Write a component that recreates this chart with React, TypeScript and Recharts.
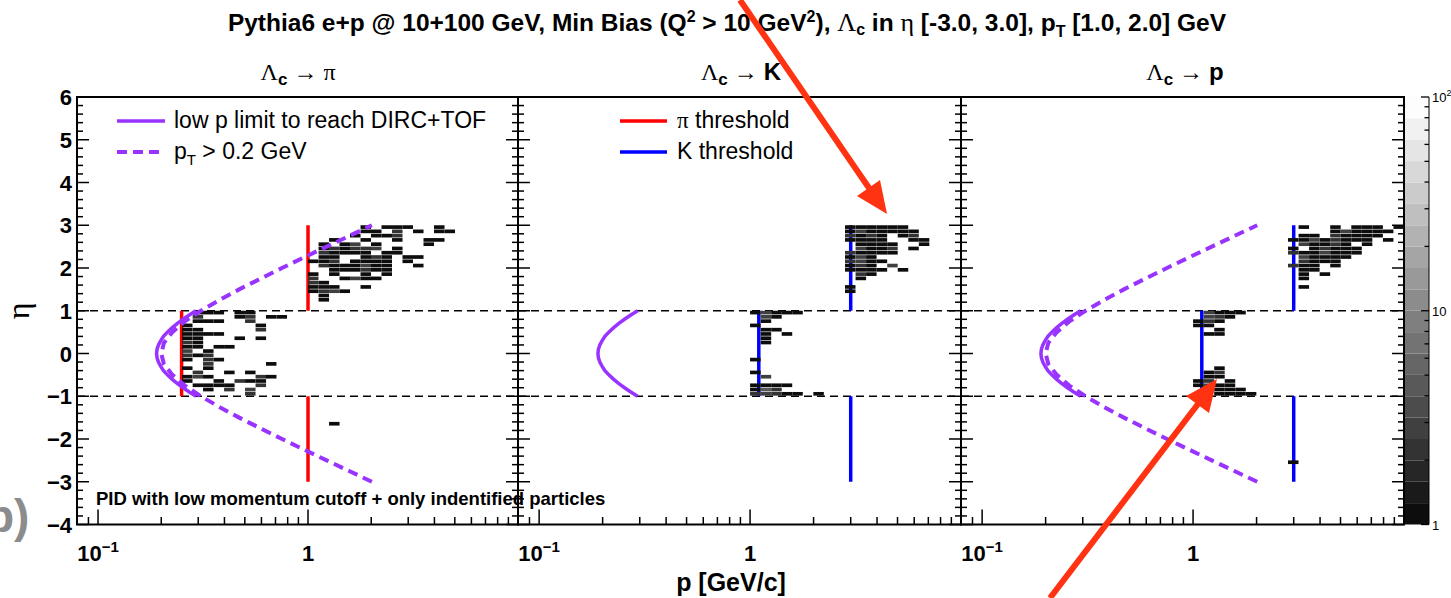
import React from 'react'
import { ScatterChart, Scatter, XAxis, YAxis, ReferenceLine, ReferenceArea, ComposedChart } from 'recharts'

const SANS = '"Liberation Sans", Arial, Helvetica, sans-serif'
const SERIF = '"Liberation Serif", "DejaVu Serif", serif'
const PURPLE = '#9933ff'
const RED = '#ff0000'
const BLUE = '#0000ff'
const ARROW = '#ff3311'

// axes
const P_DOMAIN: [number, number] = [0.0794, 10]
const ETA_DOMAIN: [number, number] = [-4, 6]
const P_TICKS = [0.09, 0.1, 0.2, 0.3, 0.4, 0.5, 0.6, 0.7, 0.8, 0.9, 1, 2, 3, 4, 5, 6, 7, 8, 9]
const P_LABELS = [0.1, 1]
const ETA_TICKS = Array.from({ length: 51 }, (_, i) => Math.round((-4 + i * 0.2) * 10) / 10)

// colour scale (log z, 1 .. 100)
const Z_LEVELS = [1, 1.259, 1.585, 1.995, 2.512, 3.162, 3.981, 5.012, 6.31, 7.943, 10, 12.59, 15.85, 19.95, 25.12, 31.62, 39.81, 50.12, 63.1, 79.43, 100]
const Z_GREYS = ['#0d0d0d', '#1a1a1a', '#262626', '#333333', '#404040', '#4c4c4c', '#595959', '#666666', '#737373', '#7f7f7f',
  '#8c8c8c', '#999999', '#a5a5a5', '#b2b2b2', '#bfbfbf', '#cbcbcb', '#d8d8d8', '#e5e5e5', '#f1f1f1', '#fdfdfd']
const Z_TICKS = [1, 2, 3, 4, 5, 6, 7, 8, 9, 10, 20, 30, 40, 50, 60, 70, 80, 90, 100]

// rows: [eta bin centre, p bin centres, counts]
type Row = [number, number[], number[]]

const PI_ROWS: Row[] = [
  [2.95, [1.884, 2.371, 2.661, 2.985, 4.217], [1, 1, 1, 1, 1]],
  [2.85, [1.884, 2.113, 2.661, 3.35, 4.217, 4.732], [1, 1, 2, 1, 1, 1]],
  [2.75, [1.679, 2.113, 2.371, 2.661], [1, 1, 1, 2]],
  [2.65, [1.334, 1.884, 2.661, 3.758, 4.217], [1, 1, 1, 1, 1]],
  [2.55, [1.189, 1.496, 1.679, 2.113, 3.758], [1, 1, 3, 1, 1]],
  [2.45, [1.189, 1.334, 1.496, 1.679, 1.884, 2.113, 2.661], [1, 2, 1, 2, 2, 3, 1]],
  [2.35, [1.189, 1.334, 1.496, 1.679, 1.884, 2.371, 2.661], [2, 1, 1, 1, 1, 1, 1]],
  [2.25, [1.189, 1.334, 1.884, 2.113, 2.371, 2.985, 3.35], [1, 1, 1, 2, 1, 1, 1]],
  [2.15, [1.059, 1.189, 1.334, 1.679, 1.884, 2.113, 2.371, 2.985], [1, 1, 2, 1, 1, 1, 1, 1]],
  [2.05, [1.189, 1.334, 1.496, 1.679, 1.884, 2.113, 2.371, 3.35], [2, 1, 1, 1, 3, 1, 1, 1]],
  [1.95, [1.334, 1.496, 1.679, 1.884, 2.113, 2.371], [1, 1, 1, 2, 1, 1]],
  [1.85, [1.059, 1.334, 1.884, 2.371], [1, 1, 1, 1]],
  [1.75, [1.059, 1.496, 1.679, 1.884, 2.113], [2, 1, 3, 1, 1]],
  [1.65, [1.059, 1.189], [2, 1]],
  [1.55, [1.059, 1.189, 1.334, 1.884], [1, 1, 1, 1]],
  [1.45, [1.059, 1.189, 1.334, 1.496], [1, 2, 3, 1]],
  [1.35, [1.189], [1]],
  [1.25, [1.189], [1]],
  [0.95, [0.299, 0.335, 0.376, 0.473, 0.531], [1, 1, 1, 1, 1]],
  [0.85, [0.299, 0.473, 0.531, 0.668, 0.75], [2, 1, 2, 1, 1]],
  [0.75, [0.299, 0.335, 0.376, 0.531], [1, 1, 1, 2]],
  [0.65, [0.266, 0.596], [1, 1]],
  [0.55, [0.266, 0.299, 0.596], [1, 1, 2]],
  [0.45, [0.266, 0.299, 0.335, 0.376], [1, 1, 1, 1]],
  [0.35, [0.266, 0.299, 0.473, 0.596], [1, 1, 1, 1]],
  [0.25, [0.266, 0.299], [2, 1]],
  [0.15, [0.266, 0.299, 0.376, 0.422], [1, 1, 1, 1]],
  [0.05, [0.266, 0.335], [3, 1]],
  [-0.05, [0.266, 0.299, 0.335], [2, 1, 2]],
  [-0.15, [0.266, 0.335, 0.376], [1, 2, 1]],
  [-0.25, [0.335, 0.668], [2, 1]],
  [-0.35, [0.266, 0.335], [1, 1]],
  [-0.45, [0.299, 0.422, 0.531], [2, 1, 1]],
  [-0.55, [0.266, 0.299, 0.335, 0.596, 0.668], [1, 3, 1, 2, 1]],
  [-0.65, [0.266, 0.376, 0.473, 0.531, 0.596], [1, 1, 2, 1, 1]],
  [-0.75, [0.299, 0.335, 0.376, 0.422, 0.596], [1, 1, 1, 1, 2]],
  [-0.85, [0.335, 0.422, 0.531], [1, 2, 3]],
  [-0.95, [0.531], [2]],
  [-1.65, [1.334], [1]],
]

const K_ROWS: Row[] = [
  [2.95, [2.985, 3.35, 3.758, 4.217, 4.732, 5.309], [1, 1, 1, 1, 1, 1]],
  [2.85, [2.985, 3.35, 3.758, 4.217, 4.732, 5.309, 5.957], [1, 3, 1, 1, 1, 1, 1]],
  [2.75, [2.985, 3.35, 3.758, 4.217, 5.309, 5.957], [2, 1, 2, 1, 1, 2]],
  [2.65, [2.985, 3.35, 3.758, 4.217, 5.957, 6.683], [1, 1, 1, 1, 1, 1]],
  [2.55, [3.35, 3.758, 4.217, 4.732, 6.683], [1, 1, 1, 1, 1]],
  [2.45, [3.35, 3.758, 4.217, 4.732, 5.957], [3, 1, 1, 2, 1]],
  [2.35, [2.985, 3.35, 3.758, 4.217, 4.732], [2, 1, 1, 1, 1]],
  [2.25, [2.985, 3.35, 3.758], [1, 3, 1]],
  [2.15, [2.985, 3.35, 3.758, 4.217], [2, 3, 1, 1]],
  [2.05, [2.985, 3.35, 3.758, 4.732], [1, 2, 1, 3]],
  [1.95, [2.985, 3.35, 3.758, 4.217, 5.309], [1, 1, 1, 1, 1]],
  [1.85, [3.35, 3.758], [2, 1]],
  [1.75, [3.35], [1]],
  [1.55, [2.985], [1]],
  [1.45, [2.985], [1]],
  [0.95, [1.059, 1.189, 1.334, 1.496, 1.679], [1, 3, 1, 1, 1]],
  [0.85, [1.189, 1.334], [3, 1]],
  [0.75, [1.189], [1]],
  [0.65, [1.059], [1]],
  [0.55, [1.189, 1.334], [1, 1]],
  [0.45, [1.189, 1.496], [1, 1]],
  [0.35, [1.189], [1]],
  [0.25, [1.189], [1]],
  [-0.15, [1.059], [1]],
  [-0.45, [1.059], [1]],
  [-0.55, [1.189], [3]],
  [-0.75, [1.059, 1.189, 1.334, 1.496], [1, 1, 1, 1]],
  [-0.85, [1.059, 1.189, 1.334], [1, 4, 2]],
  [-0.95, [1.059, 1.189, 1.334, 1.496, 1.679, 2.113], [2, 3, 2, 1, 1, 1]],
]

const PR_ROWS: Row[] = [
  [2.95, [3.35, 4.732, 5.957, 6.683, 7.499, 9.441], [1, 1, 1, 1, 1, 1]],
  [2.85, [4.732, 5.309, 5.957, 6.683, 7.499, 8.414], [1, 3, 1, 1, 1, 1]],
  [2.75, [3.35, 3.758, 4.732, 5.309, 5.957, 6.683, 7.499], [1, 1, 2, 1, 1, 1, 1]],
  [2.65, [2.985, 3.35, 3.758, 4.217, 4.732, 5.309, 5.957, 6.683, 8.414], [1, 1, 3, 1, 2, 1, 1, 1, 1]],
  [2.55, [3.35, 3.758, 4.217, 4.732, 5.309, 6.683], [3, 1, 1, 2, 1, 1]],
  [2.45, [2.985, 3.758, 4.217, 4.732, 5.309, 5.957], [1, 1, 2, 1, 1, 1]],
  [2.35, [2.985, 3.35, 3.758, 4.217, 4.732, 5.309, 5.957], [2, 1, 1, 3, 1, 1, 1]],
  [2.25, [3.35, 3.758, 4.217, 4.732, 5.309], [3, 1, 1, 1, 1]],
  [2.15, [3.35, 3.758, 4.217, 4.732], [2, 1, 1, 1]],
  [2.05, [2.985, 3.35, 3.758, 4.732], [2, 1, 1, 1]],
  [1.95, [3.35, 3.758], [1, 1]],
  [1.85, [3.35, 4.217], [1, 1]],
  [1.75, [3.35], [1]],
  [1.55, [3.35], [1]],
  [0.95, [1.189, 1.334, 1.496, 1.679], [3, 1, 1, 1]],
  [0.85, [1.189, 1.334, 1.496], [3, 2, 1]],
  [0.75, [1.059, 1.189, 1.334], [1, 2, 1]],
  [0.65, [1.059, 1.189], [1, 1]],
  [0.55, [1.334], [1]],
  [0.45, [1.189, 1.334], [1, 1]],
  [-0.35, [1.334], [1]],
  [-0.45, [1.189, 1.334], [1, 2]],
  [-0.55, [1.189, 1.334], [1, 1]],
  [-0.65, [1.059, 1.189, 1.496], [1, 2, 1]],
  [-0.75, [1.059, 1.189, 1.334, 1.496], [1, 3, 1, 1]],
  [-0.85, [1.189, 1.334, 1.496, 1.679], [2, 1, 1, 1]],
  [-0.95, [1.334, 1.496, 1.679, 1.884], [1, 1, 1, 1]],
  [-2.55, [2.985], [1]],
]

// low p limit to reach DIRC+TOF (solid purple)
const LOWP_ETA = [-1, -0.9, -0.8, -0.7, -0.6, -0.5, -0.4, -0.3, -0.2, -0.1, 0, 0.1, 0.2, 0.3, 0.4, 0.5, 0.6, 0.7, 0.8, 0.9, 1]
const LOWP_P = [0.293, 0.272, 0.254, 0.238, 0.225, 0.214, 0.205, 0.199, 0.194, 0.191, 0.19, 0.191, 0.194, 0.199, 0.205, 0.214, 0.225, 0.238, 0.254, 0.272, 0.293]

// pT > 0.2 GeV (dashed purple)
const PTCUT_ETA = [-3, -2.75, -2.5, -2.25, -2, -1.75, -1.5, -1.25, -1, -0.75, -0.5, -0.25, 0, 0.25, 0.5, 0.75, 1, 1.25, 1.5, 1.75, 2, 2.25, 2.5, 2.75, 3]
const PTCUT_P = [2.014, 1.571, 1.227, 0.959, 0.752, 0.593, 0.47, 0.378, 0.309, 0.259, 0.226, 0.206, 0.2, 0.206, 0.226, 0.259, 0.309, 0.378, 0.47, 0.593, 0.752, 0.959, 1.227, 1.571, 2.014]

// thresholds: [p, eta from, eta to]
const PI_THRESH = [[0.25, -1, 1], [1, 1, 3], [1, -3, -1]]
const K_THRESH = [[1.1, -1, 1], [3, 1, 3], [3, -3, -1]]

const TOP = 97
const AXIS_H = 73.5
const CELL_W = 10.5
const CELL_H = 4.275

const lowP = LOWP_ETA.map((eta, i) => ({ eta, p: LOWP_P[i] }))
const ptCut = PTCUT_ETA.map((eta, i) => ({ eta, p: PTCUT_P[i] }))

function shade(n: number) {
  let i = 0
  while (i < Z_GREYS.length - 1 && n >= Z_LEVELS[i + 1]) i++
  return Z_GREYS[i]
}

function CellShape(props: any) {
  const { cx, cy, payload } = props
  return <rect x={cx - CELL_W / 2} y={cy - CELL_H / 2} width={CELL_W} height={CELL_H - 0.6} fill={shade(payload.n)} />
}

const fmtEta = (v: number) => (v < 0 ? '\u2212' + Math.abs(v) : String(v))

function EtaTick({ x, y, payload, plotW, labels }: any) {
  const v = payload.value
  const major = Math.abs(v - Math.round(v)) < 1e-6
  const len = major ? 12 : 6
  return (
    <g>
      <line x1={x} x2={x + len} y1={y} y2={y} stroke="#000" strokeWidth={1.5} />
      <line x1={x + plotW - len} x2={x + plotW} y1={y} y2={y} stroke="#000" strokeWidth={1.5} />
      {labels && major && (
        <text x={x - 5} y={y + 8} textAnchor="end" fontFamily={SANS} fontWeight="bold" fontSize={22} fill="#000">
          {fmtEta(v)}
        </text>
      )}
    </g>
  )
}

function PTick({ x, y, payload }: any) {
  const v = payload.value
  const major = P_LABELS.includes(v)
  const len = major ? 15 : 7.5
  return (
    <g>
      <line x1={x} x2={x} y1={y} y2={y - len} stroke="#000" strokeWidth={1.5} />
      {major && (
        <text x={x} y={y + 36.5} textAnchor="middle" fontFamily={SANS} fontWeight="bold" fontSize={22} fill="#000">
          {v === 1 ? '1' : (
            <>
              10<tspan dy={-9} fontSize={15}>{'\u22121'}</tspan>
            </>
          )}
        </text>
      )}
    </g>
  )
}

function Panel({ left, yAxisWidth, plotW, rows, thresh, color, dashed, labels }: any) {
  const cells = rows.flatMap(([eta, ps, ns]: Row) => ps.map((p, i) => ({ p, eta, n: ns[i] })))
  return (
    <div style={{ position: 'absolute', left, top: 0 }}>
      <ScatterChart width={yAxisWidth + plotW + 12} height={598} margin={{ top: TOP, right: 12, bottom: 0, left: 0 }}>
        <XAxis
          type="number"
          dataKey="p"
          scale="log"
          domain={P_DOMAIN}
          allowDataOverflow
          ticks={P_TICKS}
          interval={0}
          height={AXIS_H}
          tickSize={0}
          tickMargin={0}
          axisLine={false}
          tick={(p: any) => <PTick {...p} />}
        />
        <YAxis
          type="number"
          dataKey="eta"
          domain={ETA_DOMAIN}
          allowDataOverflow
          ticks={ETA_TICKS}
          interval={0}
          width={yAxisWidth}
          tickSize={0}
          tickMargin={0}
          axisLine={false}
          tick={(p: any) => <EtaTick {...p} plotW={plotW} labels={labels} />}
        />
        <Scatter data={cells} shape={CellShape} isAnimationActive={false} />
        <ReferenceLine y={1} stroke="#000" strokeWidth={1.5} strokeDasharray="8 5" />
        <ReferenceLine y={-1} stroke="#000" strokeWidth={1.5} strokeDasharray="8 5" />
        {dashed && (
          <Scatter
            data={ptCut}
            shape={() => <g />}
            line={{ stroke: PURPLE, strokeWidth: 4, strokeDasharray: '10 6' }}
            isAnimationActive={false}
          />
        )}
        <Scatter data={lowP} shape={() => <g />} line={{ stroke: PURPLE, strokeWidth: 3.5 }} isAnimationActive={false} />
        {thresh.map(([p, a, b]: number[], i: number) => (
          <ReferenceLine key={i} segment={[{ x: p, y: a }, { x: p, y: b }]} stroke={color} strokeWidth={3.5} />
        ))}
        <ReferenceArea x1={P_DOMAIN[0]} x2={P_DOMAIN[1]} y1={-4} y2={6} fill="none" stroke="#000" strokeWidth={2} />
      </ScatterChart>
    </div>
  )
}

function ZTick({ x, y, payload }: any) {
  const v = payload.value
  const major = v === 1 || v === 10 || v === 100
  const len = major ? 8 : 4.5
  return (
    <g>
      <line x1={x} x2={x - len} y1={y} y2={y} stroke="#000" strokeWidth={1.3} />
      {major && (
        <text x={x + 3} y={y + 5} fontFamily={SANS} fontSize={13} fill="#000">
          {v === 100 ? (<>10<tspan dy={-6} fontSize={9}>2</tspan></>) : String(v)}
        </text>
      )}
    </g>
  )
}

const zBands = Z_GREYS.map((fill, i) => ({ y1: Z_LEVELS[i], y2: Z_LEVELS[i + 1], fill }))

function ColorBar() {
  return (
    <div style={{ position: 'absolute', left: 1395, top: 0 }}>
      <ComposedChart width={56} height={598} data={[{ x: 0.5 }]} margin={{ top: TOP, right: 0, bottom: AXIS_H, left: 10 }}>
        <XAxis type="number" dataKey="x" domain={[0, 1]} hide />
        <YAxis
          orientation="right"
          type="number"
          scale="log"
          domain={[1, 100]}
          allowDataOverflow
          ticks={Z_TICKS}
          interval={0}
          width={22}
          tickSize={0}
          tickMargin={0}
          stroke="#000"
          tick={(p: any) => <ZTick {...p} />}
        />
        {zBands.map((b, i) => (
          <ReferenceArea key={i} y1={b.y1} y2={b.y2} fill={b.fill} fillOpacity={1} stroke="none" />
        ))}
      </ComposedChart>
    </div>
  )
}

function Overlay() {
  const sub = { fontSize: 15 }
  return (
    <svg width={1451} height={598} style={{ position: 'absolute', left: 0, top: 0, pointerEvents: 'none' }}>
      <g fontFamily={SANS} fill="#000">
        <text x={727} y={30.5} textAnchor="middle" fontWeight="bold" fontSize={24.5}>
          Pythia6 e+p @ 10+100 GeV, Min Bias (Q<tspan dy={-9} fontSize={16}>2</tspan>
          <tspan dy={9}> &gt; 10 GeV</tspan><tspan dy={-9} fontSize={16}>2</tspan>
          <tspan dy={9}>),  </tspan>
          <tspan fontFamily={SERIF} fontWeight="normal" fontSize={26}>{'\u039b'}</tspan>
          <tspan dy={4} fontSize={16}>c</tspan>
          <tspan dy={-4}> in </tspan>
          <tspan fontFamily={SERIF} fontWeight="normal" fontSize={26}>{'\u03b7'}</tspan>
          <tspan> [-3.0, 3.0], p</tspan>
          <tspan dy={6} fontSize={16}>T</tspan>
          <tspan dy={-6}> [1.0, 2.0] GeV</tspan>
        </text>

        {[
          { cx: 298, to: '\u03c0', serif: true },
          { cx: 741, to: 'K', serif: false },
          { cx: 1185, to: 'p', serif: false },
        ].map((t, i) => (
          <text key={i} x={t.cx} y={80} textAnchor="middle" fontSize={24}>
            <tspan fontFamily={SERIF}>{'\u039b'}</tspan>
            <tspan dy={5} fontSize={17} fontWeight="bold">c</tspan>
            <tspan dy={-5} fontFamily={SERIF}>{'  \u2192  '}</tspan>
            <tspan fontFamily={t.serif ? SERIF : SANS} fontWeight={t.serif ? 'normal' : 'bold'}>{t.to}</tspan>
          </text>
        ))}

        <line x1={117} x2={165} y1={121} y2={121} stroke={PURPLE} strokeWidth={3.5} />
        <text x={174} y={127.5} fontSize={23}>low p limit to reach DIRC+TOF</text>
        <line x1={117} x2={165} y1={152} y2={152} stroke={PURPLE} strokeWidth={4} strokeDasharray="10 6" />
        <text x={174} y={158.5} fontSize={23}>
          p<tspan dy={6} {...sub}>T</tspan><tspan dy={-6}> &gt; 0.2 GeV</tspan>
        </text>

        <line x1={620} x2={667} y1={121} y2={121} stroke={RED} strokeWidth={3.5} />
        <text x={677} y={127.5} fontSize={23}>
          <tspan fontFamily={SERIF}>{'\u03c0'}</tspan> threshold
        </text>
        <line x1={620} x2={667} y1={152} y2={152} stroke={BLUE} strokeWidth={3.5} />
        <text x={677} y={158.5} fontSize={23}>K threshold</text>

        <text x={96} y={505} fontSize={18.5} fontWeight="bold">PID with low momentum cutoff + only indentified particles</text>

        <text x={731} y={591} textAnchor="middle" fontSize={25} fontWeight="bold">p [GeV/c]</text>
        <text transform="translate(29,311) rotate(-90)" textAnchor="middle" fontFamily={SERIF} fontSize={32}>{'\u03b7'}</text>

        <text x={-14} y={532} fontSize={46} fontWeight="bold" fill="#8c8c8c">b)</text>
      </g>

      <g>
        <line x1={740} y1={0} x2={869} y2={188} stroke={ARROW} strokeWidth={6} />
        <polygon points="887,214 880,180 857,196" fill={ARROW} />
        <line x1={1050} y1={598} x2={1198} y2={404} stroke={ARROW} strokeWidth={6} />
        <polygon points="1217,379 1209,413 1186,396" fill={ARROW} />
      </g>
    </svg>
  )
}

export default function App() {
  return (
    <div style={{ position: 'absolute', left: 0, top: 0, width: 1451, height: 598, overflow: 'hidden', background: '#fff' }}>
      <Panel left={0} yAxisWidth={77} plotW={441} rows={PI_ROWS} thresh={PI_THRESH} color={RED} dashed labels />
      <Panel left={508} yAxisWidth={10} plotW={443} rows={K_ROWS} thresh={K_THRESH} color={BLUE} dashed={false} labels={false} />
      <Panel left={951} yAxisWidth={10} plotW={443} rows={PR_ROWS} thresh={K_THRESH} color={BLUE} dashed labels={false} />
      <ColorBar />
      <Overlay />
    </div>
  )
}
